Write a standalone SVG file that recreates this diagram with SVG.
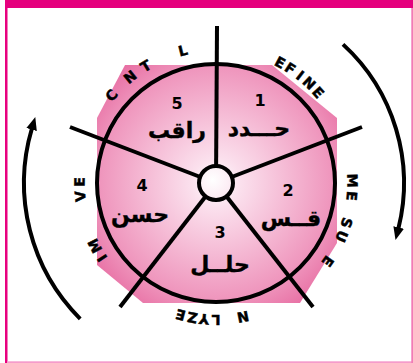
<svg xmlns="http://www.w3.org/2000/svg" width="413" height="363" viewBox="0 0 413 363">
<style>
.num{font-family:"DejaVu Sans","Liberation Sans",sans-serif;font-weight:bold;font-size:16px;fill:#000;text-anchor:middle}
.ar{font-family:"DejaVu Sans","Noto Sans",sans-serif;font-weight:bold;font-size:22px;fill:#000;stroke:#000;stroke-width:0.4;text-anchor:middle}
.cv{font-family:"DejaVu Sans","Liberation Sans",sans-serif;font-weight:bold;font-size:14px;fill:#000;stroke:#000;stroke-width:0.5;text-anchor:middle}
.spoke{stroke:#000;stroke-width:4;fill:none}
.arc{stroke:#000;stroke-width:4;fill:none;marker-end:url(#ah)}
</style>
<defs>
<radialGradient id="pg" gradientUnits="userSpaceOnUse" cx="216" cy="183" r="165">
<stop offset="0" stop-color="#ffffff"/>
<stop offset="0.15" stop-color="#fbe0ed"/>
<stop offset="0.7" stop-color="#ef96bd"/>
<stop offset="1" stop-color="#e45c97"/>
</radialGradient>
<radialGradient id="cg" cx="0.4" cy="0.4" r="0.7">
<stop offset="0" stop-color="#ffffff"/>
<stop offset="1" stop-color="#fbe6f0"/>
</radialGradient>
<marker id="ah" viewBox="0 0 12 10" refX="1" refY="5" markerWidth="13" markerHeight="11" markerUnits="userSpaceOnUse" orient="auto">
<path d="M0,0 L12,5 L0,10 z" fill="#000"/>
</marker>
</defs>
<rect width="413" height="363" fill="#fff"/>
<g id="frame">
<rect x="5" y="0" width="408" height="8" fill="#e5007d"/>
<rect x="5" y="0" width="2.5" height="363" fill="#e8007f"/>
<rect x="7" y="361.3" width="406" height="1.7" fill="#f59ccb"/>
<rect x="411.3" y="8" width="1.7" height="355" fill="#f27bb6"/>
</g>
<g id="wheel">
<polygon points="125,65 272,65 337,118 337,243 300,303 143,303 97,265 97,118" fill="url(#pg)"/>
<circle cx="216" cy="183" r="119" fill="url(#pg)" stroke="#000" stroke-width="4"/>
</g>
<g id="connectors">
<line class="spoke" x1="216" y1="183" x2="217" y2="26"/>
<line class="spoke" x1="216" y1="183" x2="362" y2="127"/>
<line class="spoke" x1="216" y1="183" x2="313" y2="307"/>
<line class="spoke" x1="216" y1="183" x2="120" y2="307"/>
<line class="spoke" x1="216" y1="183" x2="70" y2="127"/>
<path class="arc" d="M80.2,318.8 A192,192 0 0 1 31.9,128.5"/>
<path class="arc" d="M343,44.4 A188,188 0 0 1 398.4,228.5"/>
</g>
<g id="hub">
<circle cx="216" cy="183" r="17" fill="url(#cg)" stroke="#000" stroke-width="4"/>
</g>
<g id="seg1">
<text class="num" x="260" y="106">1</text>
<text class="ar" x="259" y="136">حـــدد</text>
<text class="cv" x="216" y="51.5" transform="rotate(28 216 183)">E</text>
<text class="cv" x="216" y="51.5" transform="rotate(33 216 183)">F</text>
<text class="cv" x="216" y="51.5" transform="rotate(38 216 183)">I</text>
<text class="cv" x="216" y="51.5" transform="rotate(43 216 183)">N</text>
<text class="cv" x="216" y="51.5" transform="rotate(48.5 216 183)">E</text>
</g>
<g id="seg2">
<text class="num" x="288" y="196">2</text>
<text class="ar" x="291" y="226">قــس</text>
<text class="cv" x="216" y="51.5" transform="rotate(89 216 183)">M</text>
<text class="cv" x="216" y="51.5" transform="rotate(95.5 216 183)">E</text>
<text class="cv" x="216" y="51.5" transform="rotate(107 216 183)">S</text>
<text class="cv" x="216" y="51.5" transform="rotate(113 216 183)">U</text>
<text class="cv" x="216" y="51.5" transform="rotate(125 216 183)">E</text>
</g>
<g id="seg3">
<text class="num" x="220" y="238">3</text>
<text class="ar" x="220" y="272">حلــل</text>
<text class="cv" x="216" y="51.5" transform="rotate(168.6 216 183)">N</text>
<text class="cv" x="216" y="51.5" transform="rotate(180 216 183)">L</text>
<text class="cv" x="216" y="51.5" transform="rotate(185 216 183)">Y</text>
<text class="cv" x="216" y="51.5" transform="rotate(190 216 183)">Z</text>
<text class="cv" x="216" y="51.5" transform="rotate(195 216 183)">E</text>
</g>
<g id="seg4">
<text class="num" x="142" y="191">4</text>
<text class="ar" x="140" y="222">حسن</text>
<text class="cv" x="216" y="51.5" transform="rotate(236.6 216 183)">I</text>
<text class="cv" x="216" y="51.5" transform="rotate(242.6 216 183)">M</text>
<text class="cv" x="216" y="51.5" transform="rotate(264.4 216 183)">V</text>
<text class="cv" x="216" y="51.5" transform="rotate(270.5 216 183)">E</text>
</g>
<g id="seg5">
<text class="num" x="177" y="109">5</text>
<text class="ar" x="177" y="138">راقب</text>
<text class="cv" x="216" y="51.5" transform="rotate(310 216 183)">C</text>
<text class="cv" x="216" y="51.5" transform="rotate(321 216 183)">N</text>
<text class="cv" x="216" y="51.5" transform="rotate(329 216 183)">T</text>
<text class="cv" x="216" y="51.5" transform="rotate(346 216 183)">L</text>
</g>
</svg>
